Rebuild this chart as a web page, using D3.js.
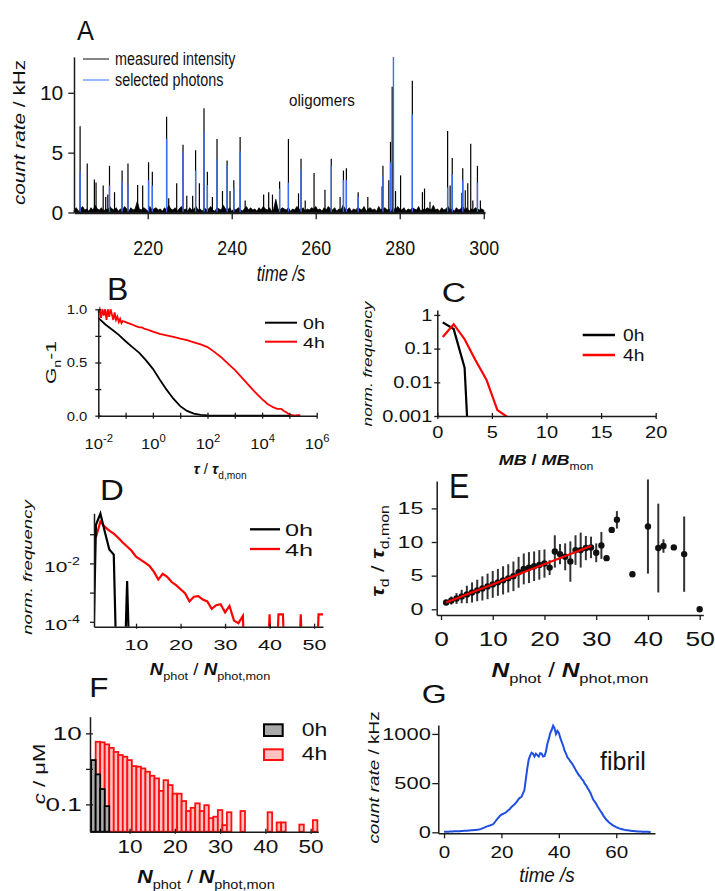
<!DOCTYPE html>
<html>
<head>
<meta charset="utf-8">
<script src="https://cdnjs.cloudflare.com/ajax/libs/d3/7.8.5/d3.min.js"></script>
<style>body{margin:0;background:#fff}</style>
</head>
<body>
<script>
var W = 715, H = 891;
var FONT = "Arial, 'Liberation Sans', Helvetica, sans-serif";

//---------------- data ----------------
// A: intensity trace (baseline sampled every 0.5 s) + bursts
var traceStart = 202.5, traceStep = 0.5;
var traceBase = [
  .2,.4,.1,.3,.5,.2,.3,.1,.4,.2,.6,.3,.2,.4,.1,.3,.2,.5,.3,.2,
  .4,.1,.3,.2,.5,.3,.1,.4,.2,.3,.9,.3,.2,.4,.3,.1,.5,.2,.3,.4,
  .2,.3,.1,.4,.2,.6,.3,.2,.4,.1,.3,.5,.2,.3,.1,.4,.2,.3,.5,.2,
  .3,.1,.4,.2,.3,.5,.2,.1,.4,.3,.2,.6,.3,.2,.4,.1,.3,.2,.4,.3,
  .1,.3,.5,.2,.4,.2,.3,.1,.4,.2,.5,.3,.2,.4,.1,.3,1.1,.3,.2,.4,
  .3,.2,.4,.1,.3,.2,.5,.3,.2,.4,.1,.3,.2,.4,.3,.5,.2,.3,.1,.4,
  .2,.5,.3,.2,.4,.1,.3,.2,.6,.3,.2,.4,.1,.3,.2,.4,.3,.2,.5,.1,
  .3,.4,.2,.3,.1,.5,.2,.3,.4,.2,.3,.1,.4,.2,.5,.3,.2,.4,.1,.3,
  .2,.4,.3,.2,.5,.1,.3,.2,.4,.3,.2,.6,.2,.3,.1,.4,.2,.3,.5,.2,
  .3,.1,.4,.2,.3,.5,.2,.4,.1,.3,.2,.4,.3,.2,.3,.2];
var measuredSpikes = [[203.9,7.2],[205.6,4.1],[207.3,2.75],[207.7,2.5],[209.4,2.25],[210.0,1.3],[210.5,1.5],[210.9,3.9],
  [212.1,1.7],[213.9,3.5],[215.3,4.1],[217.6,2.3],[218.8,2.25],[220.2,4.2],[221.1,3.4],[224.5,8.0],[225.0,1.2],
  [226.9,2.45],[228.4,5.65],[229.3,1.4],[230.7,1.4],[231.4,5.2],[232.3,2.45],[233.4,8.7],[234.2,3.4],[235.4,1.3],
  [236.5,6.15],[237.8,1.8],[238.9,4.35],[239.6,1.8],[240.5,2.7],[242.0,6.3],[243.2,1.0],[247.6,1.5],[248.8,1.7],
  [249.7,1.5],[251.4,2.6],[253.5,6.15],[255.9,1.6],[256.5,4.5],[257.5,1.0],[259.6,3.3],[262.2,1.9],[263.7,4.5],
  [265.8,1.3],[266.6,3.5],[267.3,3.7],[270.1,1.7],[272.4,1.3],[275.8,2.2],[276.0,3.9],[277.4,2.7],[277.8,5.9],
  [278.2,10.5],[278.5,4.0],[279.0,1.8],[280.2,3.1],[283.0,11.0],[285.4,1.7],[285.9,2.0],[287.2,0.9],[291.4,6.8],
  [292.0,2.25],[292.5,4.55],[294.8,1.65],[295.0,3.7],[295.6,1.85],[296.2,2.45],[296.9,5.75],[297.4,1.0],[298.5,3.9],[299.2,1.0]];
var selectedSpikes = [[203.9,3.45],[210.9,2.25],[213.9,2.6],[215.3,2.3],[220.2,2.7],[221.1,2.25],[224.5,6.15],[228.4,5.0],
  [231.4,3.5],[233.4,6.75],[234.2,2.3],[236.5,4.5],[238.9,3.95],[240.5,2.0],[242.0,5.1],[251.4,2.0],[253.5,2.5],
  [256.5,3.6],[263.7,3.9],[266.6,2.7],[267.3,2.7],[270.1,1.3],[276.0,3.0],[277.8,4.2],[278.5,13.0],[283.0,8.2],
  [291.4,2.1],[292.5,3.2],[295.0,2.7],[298.5,2.5]];

// B: normalised autocorrelation, lag given as log10(tau / tau_d,mon)
var bExp0 = [-2,-1.75,-1.5,-1.25,-1,-0.75,-0.5,-0.25,0,0.25,0.5,0.75,1,1.25,1.5,1.75,2,2.5,3,3.5,4,4.5,5];
var bG0 = [0.92,0.86,0.81,0.76,0.70,0.645,0.59,0.52,0.44,0.34,0.245,0.16,0.09,0.045,0.02,0.008,0.003,0.001,0,0,0,0,0];
var bExp4 = [-2,-1.95,-1.9,-1.85,-1.8,-1.75,-1.7,-1.65,-1.6,-1.55,-1.5,-1.45,-1.4,-1.35,-1.3,-1.25,-1.2,-1.15,-1.1,-1.0,
  -0.9,-0.8,-0.7,-0.6,-0.5,-0.4,-0.3,-0.2,-0.1,0,0.25,0.5,0.75,1,1.25,1.5,1.75,2,2.25,2.5,
  2.75,3,3.25,3.5,3.75,4,4.2,4.4,4.55,4.7,4.8,4.9,5.0,5.1,5.2,5.3,5.4];
var bG4 = [0.97,1.0,0.92,1.0,0.94,1.0,0.9,1.0,0.93,1.0,0.95,0.9,0.97,0.9,0.93,0.88,0.91,0.87,0.89,0.88,
  0.87,0.86,0.85,0.84,0.83,0.83,0.815,0.81,0.80,0.79,0.77,0.755,0.74,0.725,0.71,0.69,0.67,0.645,0.60,0.55,
  0.49,0.43,0.36,0.29,0.22,0.155,0.11,0.08,0.065,0.065,0.045,0.03,0.01,0.005,0.0,0.005,0.004];

// C: molecular brightness distribution
var cMB0 = [0.5,1.5,2.5,3.5], cFreq0 = [0.6,0.38,0.027,0];
var cMB4 = [0.5,1.5,2.5,3.5,4.5,5.5,6.5], cFreq4 = [0.22,0.53,0.19,0.045,0.012,0.0015,0.0009];

// D: photon number distribution
var dN0 = [0,1,2,3,4,5,6,7,8,9];
var dFreq0 = [0,0.21,0.51,0.12,0.03,0.02,0,0,0.0025,0];
var dN4 = [1,2,3,4,5,6,7,8,9,10,11,12,13,14,15,16,17,18,19,20,21,22,23,24,25,26,27,28,29,30,31,32,33,34,35,
  39,40,41,42,43,44,46,47,48,50,51,52];
var dFreq4 = [0.079,0.27,0.178,0.132,0.105,0.076,0.052,0.038,0.027,0.017,0.0135,0.0107,0.0083,0.0052,0.0028,0.0044,
  0.0035,0.0023,0.0018,0.0013,0.00095,0.0005,0.00072,0.00076,0.00058,0.0005,0.00028,0.00037,0.0004,0.00021,0.00035,
  0.00011,0.00009,0.00016,0,
  0,0.00018,0,0.00018,0.00018,0,0,0.00018,0,0,0.00018,0.00018];

// E: diffusion time vs photon number
var eN = [1,2,3,4,5,6,7,8,9,10,11,12,13,14,15,16,17,18,19,20,21,22,23,24,25,26,27,28,29,30,31,32,33,34,37,40,42,43,45,47,50];
var eTau = [1.0,1.3,1.6,1.9,2.2,2.5,2.8,3.1,3.4,3.7,4.0,4.3,4.6,4.9,5.5,6.0,6.2,6.4,6.6,6.8,
  6.2,8.6,8.2,7.8,7.1,8.8,8.8,9.1,9.2,8.4,9.5,7.6,11.8,13.3,5.2,12.3,9.1,9.4,9.2,8.2,0];
var eErr = [0.4,0.6,0.8,1.0,1.3,1.5,1.6,1.8,1.9,2.0,2.0,2.1,2.1,2.2,2.3,2.3,2.3,2.2,2.2,2.1,
  1.1,2.4,1.5,2.0,3.0,2.2,2.6,1.8,1.6,1.4,2.0,0,0,1.3,0,7.0,6.6,1.0,0,5.6,0];
var fitN = [1, 29], fitTau = [1.0, 9.4];

// F: concentration per photon-number bin
var fBin0 = [2,3,4,5], fConc0 = [1.77,0.70,0.27,0.089];
var fBin4 = [3,4,5,6,7,8,9,10,11,12,13,14,15,16,17,18,19,20,21,22,23,24,25,26,27,28,29,30,31,32,35,41,43,44,48,51];
var fConc4 = [5.8,5.6,4.9,3.9,3.0,2.45,2.2,1.77,1.2,1.15,1.03,0.83,0.64,0.54,0.24,0.48,0.35,0.20,0.20,0.124,
  0.065,0.08,0.107,0.065,0.095,0.041,0.045,0.069,0.026,0.06,0.065,0.06,0.031,0.031,0.027,0.036];

// G: fibril burst, 0.5 s bins
var gStart = 0, gStep = 0.5;
var gRate = [5,6,6,7,8,8,9,10,10,11, 12,12,13,14,15,16,17,18,19,20,
  21,23,24,26,28,31,35,42,48,55, 60,66,70,76,80,95,115,135,150,168,
  180,186,195,200,215,228,240,258,270,282, 300,318,340,352,360,395,430,540,650,740,
  780,810,800,770,800,785,770,805,800,770, 775,820,900,950,1010,1040,1085,1060,1000,1030,
  1010,960,920,880,830,800,760,745,720,704, 680,655,625,604,580,565,540,525,495,478,
  450,428,400,365,330,312,290,262,240,216, 195,170,150,130,115,100,90,78,68,60,
  52,46,40,36,32,28,25,22,20,18, 16,14,13,11,10,9,8,8,7,6,
  6,5,5,4,4];

//---------------- helpers ----------------
var svg = d3.select("body").append("svg")
    .attr("width", W).attr("height", H)
    .style("font-family", FONT);
var defs = svg.append("defs");

function clipRect(id, x0, y0, x1, y1) {
  defs.append("clipPath").attr("id", id).append("rect")
      .attr("x", x0).attr("y", y0).attr("width", x1 - x0).attr("height", y1 - y0);
  return "url(#" + id + ")";
}

// text made of parts: [string, flags]  flags: B bold, I italic, _ subscript, ^ superscript
function rich(x, y, parts, o) {
  var t = svg.append("text")
      .attr("transform", "translate(" + x + "," + y + ")" + (o.rot ? " rotate(" + o.rot + ")" : "") + " scale(" + (o.sx || 1) + ",1)")
      .attr("font-size", o.fs)
      .attr("text-anchor", o.anchor || "start")
      .attr("fill", "#111")
      .style("white-space", "pre");
  var shift = 0;
  parts.forEach(function(p) {
    var k = p[1] || "";
    var s = t.append("tspan").text(p[0]);
    var target = 0;
    if (k.indexOf("_") >= 0) { target = 0.3 * o.fs; s.attr("font-size", o.fs * 0.68); }
    if (k.indexOf("^") >= 0) { target = -0.45 * o.fs; s.attr("font-size", o.fs * 0.68); }
    if (target != shift) { s.attr("dy", target - shift); shift = target; }
    if (k.indexOf("B") >= 0) s.attr("font-weight", "bold");
    if (k.indexOf("I") >= 0) s.attr("font-style", "italic");
  });
  return t;
}

function axis(orient, scale, pos, o) {
  var ax = (orient == "b" ? d3.axisBottom(scale) : d3.axisLeft(scale))
      .tickValues(o.ticks)
      .tickSizeOuter(0)
      .tickSizeInner(o.out)
      .tickPadding(o.off - o.out)
      .tickFormat(o.fmt || function(d) { return d; });
  var a = svg.append("g")
      .attr("transform", orient == "b" ? "translate(0," + pos + ")" : "translate(" + pos + ",0)")
      .call(ax);
  a.select(".domain").attr("stroke", "#1a1a1a").attr("stroke-width", o.w || 1.5);
  a.selectAll(".tick line").attr("stroke", "#1a1a1a").attr("stroke-width", 1.3);
  if (o.inn) a.selectAll(".tick line").attr(orient == "b" ? "y1" : "x1", orient == "b" ? -o.inn : o.inn);
  a.selectAll(".tick text")
      .attr("font-size", o.fs).attr("font-family", FONT).attr("fill", "#111")
      .each(function() {
        var t = d3.select(this);
        var x = +t.attr("x") || 0;
        t.attr("x", 0).attr("transform", "translate(" + x + ",0) scale(" + o.sx + ",1)");
        if (o.dy) t.attr("dy", o.dy);
      });
  return a;
}

// "10" with exponent, only for the listed exponents
function powerLabels(a, show, fs) {
  a.selectAll(".tick text").each(function(d) {
    var e = Math.round(Math.log10(d));
    var t = d3.select(this).text("");
    if (show.indexOf(e) < 0) return;
    t.append("tspan").text("10");
    t.append("tspan").attr("dy", -0.45 * fs).attr("font-size", fs * 0.68).text(e);
  });
}

function legendLine(x0, x1, y, color, w) {
  svg.append("line").attr("x1", x0).attr("x2", x1).attr("y1", y).attr("y2", y)
     .attr("stroke", color).attr("stroke-width", w);
}

var nPhot = [["N", "BI"], ["phot", "_"], [" / "], ["N", "BI"], ["phot,mon", "_"]];

//---------------- A ----------------
var xA = d3.scaleLinear().domain([202.45, 300.3]).range([74, 485]);
var yA = d3.scaleLinear().domain([0, 13]).range([212.5, 56.9]);

svg.append("path")
   .attr("d", d3.area()
       .x(function(d, i) { return xA(traceStart + i * traceStep); })
       .y0(yA(0))
       .y1(function(d) { return yA(d); })(traceBase))
   .attr("fill", "#000").attr("stroke", "#000").attr("stroke-width", 0.8);

svg.selectAll("line.meas").data(measuredSpikes).enter().append("line")
   .attr("class", "meas")
   .attr("x1", function(d) { return xA(d[0]); }).attr("x2", function(d) { return xA(d[0]); })
   .attr("y1", yA(0)).attr("y2", function(d) { return yA(d[1]); })
   .attr("stroke", "#000").attr("stroke-width", 1.2);

svg.selectAll("line.sel").data(selectedSpikes).enter().append("line")
   .attr("class", "sel")
   .attr("x1", function(d) { return xA(d[0]); }).attr("x2", function(d) { return xA(d[0]); })
   .attr("y1", yA(0)).attr("y2", function(d) { return yA(d[1]); })
   .attr("stroke", "#3d6ef5").attr("stroke-width", 1.4);

axis("l", yA, 74, {ticks: [0, 5, 10], out: 5.7, off: 10.7, fs: 21, sx: 1});
axis("b", xA, 212.5, {ticks: [220, 240, 260, 280, 300], out: 6.7, off: 28, fs: 21, sx: 0.85, w: 2.5});

rich(77, 40, [["A"]], {fs: 27, sx: 0.94});
legendLine(83, 109, 59, "#333", 1.2);
legendLine(83, 109, 80, "#6a9bff", 1.4);
rich(115, 65, [["measured intensity"]], {fs: 17.5, sx: 0.82});
rich(115, 86, [["selected photons"]], {fs: 17.5, sx: 0.82});
rich(289, 106, [["oligomers"]], {fs: 16, sx: 0.95});
rich(24.5, 132.5, [["count rate", "I"], [" / kHz"]], {fs: 17, sx: 1.22, rot: -90, anchor: "middle"});
rich(281, 281, [["time /s", "I"]], {fs: 22, sx: 0.75, anchor: "middle"});

//---------------- B ----------------
var xB = d3.scaleLog().domain([1e-2, 1e6]).range([98.3, 316.7]);
var yB = d3.scaleLinear().domain([0, 1]).range([415.7, 309.3]);
var lineB = function(ex, vals) {
  return d3.line().x(function(d, i) { return xB(Math.pow(10, ex[i])); }).y(function(d) { return yB(d); })(vals);
};
svg.append("path").attr("d", lineB(bExp0, bG0)).attr("fill", "none").attr("stroke", "#000").attr("stroke-width", 1.8);
svg.append("path").attr("d", lineB(bExp4, bG4)).attr("fill", "none").attr("stroke", "#ff0000").attr("stroke-width", 1.8);

axis("l", yB, 98.3, {ticks: [0, 0.25, 0.5, 0.75, 1], out: 3, inn: 3, off: 11, fs: 13.5, sx: 1.1,
  fmt: function(d) { return (d * 2) % 1 == 0 ? d.toFixed(1) : ""; }});
var bx = axis("b", xB, 415.7, {ticks: [1e-2, 1e-1, 1, 10, 1e2, 1e3, 1e4, 1e5, 1e6], out: 3, inn: 3, off: 22.6, fs: 15.5, sx: 1.07});
powerLabels(bx, [-2, 0, 2, 4, 6], 15.5);

rich(107, 300, [["B"]], {fs: 32, sx: 1});
legendLine(265, 297, 322.7, "#000", 2);
legendLine(265, 297, 341.7, "#ff0000", 2);
rich(303, 328.5, [["0h"]], {fs: 14.5, sx: 1.35});
rich(303, 347.5, [["4h"]], {fs: 14.5, sx: 1.35});
rich(56, 362.5, [["G"], ["n", "_"], ["-1"]], {fs: 15, sx: 1.4, rot: -90, anchor: "middle"});
rich(220, 474, [["τ", "BI"], [" / "], ["τ", "BI"], ["d,mon", "_"]], {fs: 15, sx: 1, anchor: "middle"});

//---------------- C ----------------
var xC = d3.scaleLinear().domain([0, 20]).range([437.3, 655.7]);
var yC = d3.scaleLog().domain([0.001, 1.4]).range([416, 310]);
var clipC = clipRect("clipC", 437.3, 305, 655.7, 416);
var lineC = d3.line().x(function(d) { return xC(d[0]); }).y(function(d) { return yC(d[1] > 0 ? d[1] : 1e-8); });
svg.append("path").attr("d", lineC(d3.zip(cMB0, cFreq0))).attr("clip-path", clipC)
   .attr("fill", "none").attr("stroke", "#000").attr("stroke-width", 2.2);
svg.append("path").attr("d", lineC(d3.zip(cMB4, cFreq4))).attr("clip-path", clipC)
   .attr("fill", "none").attr("stroke", "#ff0000").attr("stroke-width", 2.2);

axis("l", yC, 437.3, {ticks: [0.001, 0.01, 0.1, 1], out: 3, inn: 3, off: 5, fs: 16, sx: 1.25,
  fmt: function(d) { return String(d); }});
axis("b", xC, 416, {ticks: [0, 5, 10, 15, 20], out: 3, inn: 3, off: 10.7, fs: 16, sx: 1.25});

rich(441.7, 301.7, [["C"]], {fs: 28, sx: 1.2});
legendLine(582.7, 615, 335, "#000", 2.3);
legendLine(582.7, 615, 355, "#ff0000", 2.3);
rich(623, 341, [["0h"]], {fs: 16.3, sx: 1.18});
rich(623, 361, [["4h"]], {fs: 16.3, sx: 1.18});
rich(372, 364, [["norm. frequency", "I"]], {fs: 13, sx: 1.33, rot: -90, anchor: "middle"});
rich(546, 465, [["MB", "BI"], [" / ", "B"], ["MB", "BI"], ["mon", "_"]], {fs: 15, sx: 1.2, anchor: "middle"});

//---------------- D ----------------
var xD = d3.scaleLinear().domain([0.56, 52]).range([94, 323]);
var yD = d3.scaleLog().domain([6.8e-5, 0.52]).range([626.7, 513.3]);
var clipD = clipRect("clipD", 94, 505, 326, 626.7);
var lineD = d3.line().x(function(d) { return xD(d[0]); }).y(function(d) { return yD(d[1] > 0 ? d[1] : 1e-8); });
svg.append("path").attr("d", lineD(d3.zip(dN4, dFreq4))).attr("clip-path", clipD)
   .attr("fill", "none").attr("stroke", "#ff0000").attr("stroke-width", 2.2);
svg.append("path").attr("d", lineD(d3.zip(dN0, dFreq0))).attr("clip-path", clipD)
   .attr("fill", "none").attr("stroke", "#000").attr("stroke-width", 2.2);

var dy = axis("l", yD, 94, {ticks: [1e-4, 1e-3, 1e-2, 1e-1], out: 4, inn: 1, off: 14, fs: 15.4, sx: 1.36, dy: "0.5em"});
powerLabels(dy, [-2, -4], 15.4);
axis("b", xD, 626.7, {ticks: [10, 20, 30, 40, 50], out: 2, inn: 3, off: 12.6, fs: 15.4, sx: 1.4});

rich(100, 500, [["D"]], {fs: 30, sx: 1.1});
legendLine(250, 280, 529.3, "#000", 2.3);
legendLine(250, 280, 549, "#ff0000", 2.3);
rich(285, 536, [["0h"]], {fs: 16.3, sx: 1.55});
rich(285, 556, [["4h"]], {fs: 16.3, sx: 1.55});
rich(32, 567.5, [["norm. frequency", "I"]], {fs: 13.5, sx: 1.38, rot: -90, anchor: "middle"});
rich(210, 675, nPhot, {fs: 16, sx: 1.17, anchor: "middle"});

//---------------- E ----------------
var xE = d3.scaleLinear().domain([-0.83, 50.7]).range([436.7, 703.3]);
var yE = d3.scaleLinear().domain([-0.85, 19.07]).range([615, 481]);
var eData = d3.zip(eN, eTau, eErr);

svg.selectAll("line.err").data(eData.filter(function(d) { return d[2] > 0; })).enter().append("line")
   .attr("class", "err")
   .attr("x1", function(d) { return xE(d[0]); }).attr("x2", function(d) { return xE(d[0]); })
   .attr("y1", function(d) { return yE(d[1] - d[2]); }).attr("y2", function(d) { return yE(d[1] + d[2]); })
   .attr("stroke", "#333").attr("stroke-width", 2);
svg.selectAll("circle.pt").data(eData).enter().append("circle")
   .attr("class", "pt")
   .attr("cx", function(d) { return xE(d[0]); }).attr("cy", function(d) { return yE(d[1]); })
   .attr("r", 3.2).attr("fill", "#111");
svg.append("path")
   .attr("d", d3.line().x(function(d) { return xE(d[0]); }).y(function(d) { return yE(d[1]); })(d3.zip(fitN, fitTau)))
   .attr("fill", "none").attr("stroke", "#ff0000").attr("stroke-width", 2);

axis("l", yE, 436.7, {ticks: [0, 5, 10, 15], out: 5, off: 13.4, fs: 16, sx: 1.45});
axis("b", xE, 615, {ticks: [0, 10, 20, 30, 40, 50], out: 5, off: 15.7, fs: 21, sx: 1.25});

rich(449, 498.3, [["E"]], {fs: 35, sx: 0.87});
rich(384, 551, [["τ", "BI"], ["d", "_"], [" / "], ["τ", "BI"], ["d,mon", "_"]], {fs: 18, sx: 1.3, rot: -90, anchor: "middle"});
rich(570, 676.7, nPhot, {fs: 19.5, sx: 1.25, anchor: "middle"});

//---------------- F ----------------
var xF = d3.scaleLinear().domain([1.25, 51.7]).range([90, 318.3]);
var yF = d3.scaleLog().domain([0.017, 29.5]).range([831.7, 716.7]);

function bars(cls, bins, vals, fill, stroke) {
  svg.selectAll("rect." + cls).data(d3.zip(bins, vals)).enter().append("rect")
     .attr("class", cls)
     .attr("x", function(d) { return xF(d[0] - 0.5); })
     .attr("width", function(d) { return xF(d[0] + 0.5) - xF(d[0] - 0.5); })
     .attr("y", function(d) { return yF(d[1]); })
     .attr("height", function(d) { return yF.range()[0] - yF(d[1]); })
     .attr("fill", fill).attr("stroke", stroke).attr("stroke-width", 1.8);
}
bars("f4", fBin4, fConc4, "#ffc2c2", "#ff1010");
bars("f0", fBin0, fConc0, "#a9a9a9", "#000");

axis("l", yF, 90, {ticks: [0.1, 1, 10], out: 4, inn: 3, off: 8.3, fs: 17.7, sx: 1.47,
  fmt: function(d) { return d == 1 ? "" : String(d); }});
axis("b", xF, 831.7, {ticks: [10, 20, 30, 40, 50], out: 2, inn: 3, off: 8.3, fs: 17.7, sx: 1.28});

rich(89.3, 696.7, [["F"]], {fs: 28, sx: 1.12});
svg.append("rect").attr("x", 264).attr("y", 724.3).attr("width", 18.7).attr("height", 11.7)
   .attr("fill", "#a9a9a9").attr("stroke", "#000").attr("stroke-width", 2);
svg.append("rect").attr("x", 264).attr("y", 749.3).attr("width", 18.7).attr("height", 10.7)
   .attr("fill", "#ffc2c2").attr("stroke", "#ff1010").attr("stroke-width", 2);
rich(301.7, 736, [["0h"]], {fs: 17.7, sx: 1.3});
rich(301.7, 760, [["4h"]], {fs: 17.7, sx: 1.3});
rich(45, 774, [["c", "I"], [" / μM"]], {fs: 17, sx: 1.3, rot: -90, anchor: "middle"});
rich(206, 883, nPhot, {fs: 18.6, sx: 1.15, anchor: "middle"});

//---------------- G ----------------
var xG = d3.scaleLinear().domain([-2, 73.5]).range([438.3, 655]);
var yG = d3.scaleLinear().domain([-10, 1091]).range([833.3, 725]);
svg.append("path")
   .attr("d", d3.line()
       .x(function(d, i) { return xG(gStart + i * gStep); })
       .y(function(d) { return yG(d); })(gRate))
   .attr("fill", "none").attr("stroke", "#1f4fe0").attr("stroke-width", 2);

axis("l", yG, 438.3, {ticks: [0, 500, 1000], out: 6, off: 7.5, fs: 16.3, sx: 1.34});
axis("b", xG, 833.3, {ticks: [0, 20, 40, 60], out: 5, off: 13.5, fs: 16, sx: 1.29});

rich(421.7, 703.3, [["G"]], {fs: 25.6, sx: 1.25});
rich(600, 770, [["fibril"]], {fs: 25, sx: 1});
rich(379, 777.5, [["count rate", "I"], [" / kHz"]], {fs: 15, sx: 1.26, rot: -90, anchor: "middle"});
rich(547, 882, [["time /s", "I"]], {fs: 19.5, sx: 0.97, anchor: "middle"});
</script>
</body>
</html>
